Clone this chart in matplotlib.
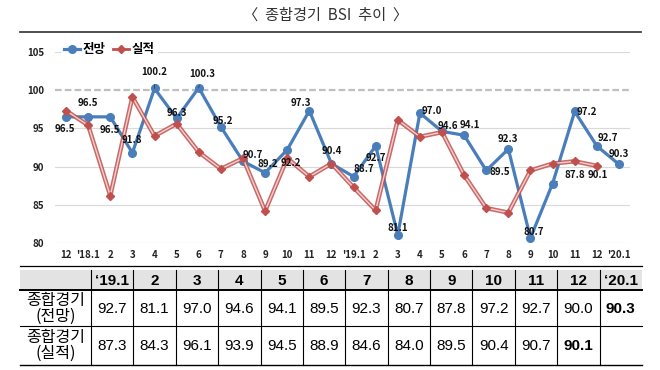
import matplotlib
matplotlib.use('Agg')
import matplotlib.pyplot as plt
from matplotlib.patches import Rectangle

plt.rcParams['font.family'] = ['Noto Sans CJK KR', 'DejaVu Sans']

# chart data
months = ['12', "'18.1", '2', '3', '4', '5', '6', '7', '8', '9', '10', '11', '12',
          "'19.1", '2', '3', '4', '5', '6', '7', '8', '9', '10', '11', '12', "'20.1"]
forecast = [96.5, 96.5, 96.5, 91.8, 100.2, 96.3, 100.3, 95.2, 90.7, 89.2, 92.2, 97.3, 90.4,
            88.7, 92.7, 81.1, 97.0, 94.6, 94.1, 89.5, 92.3, 80.7, 87.8, 97.2, 92.7, 90.3]
actual = [97.3, 95.4, 86.2, 99.1, 94.0, 95.6, 91.9, 89.7, 91.1, 84.2, 91.1, 88.7, 90.4,
          87.3, 84.3, 96.1, 93.9, 94.5, 88.9, 84.6, 84.0, 89.5, 90.4, 90.7, 90.1]

# table data
tbl_cols = ['‘19.1', '2', '3', '4', '5', '6', '7', '8', '9', '10', '11', '12', '‘20.1']
tbl_forecast = [92.7, 81.1, 97.0, 94.6, 94.1, 89.5, 92.3, 80.7, 87.8, 97.2, 92.7, 90.0, 90.3]
tbl_actual = [87.3, 84.3, 96.1, 93.9, 94.5, 88.9, 84.6, 84.0, 89.5, 90.4, 90.7, 90.1]

# label offsets for the forecast line (pixels)
offs = [(-1, -12), (0, 14), (0, -13), (0, 13), (0, 16), (0, 5), (3, 14), (2, 6), (10, 6),
        (3, 9), (4, -13), (-8, 8), (0, 13), (10, 8), (0, -12), (0, 7), (12, 2), (6, 5),
        (6, 10), (14, -2), (0, 10), (3, 6), (22, 9), (12, -1), (11, 8), (0, 10)]
leaders = [4, 6, 22]

W, H = 660, 370
fig = plt.figure(figsize=(6.6, 3.7), dpi=100)

bg = fig.add_axes([0, 0, 1, 1], zorder=0)
bg.set_xlim(0, W)
bg.set_ylim(H, 0)
bg.axis('off')

bg.text(326, 15, '〈  종합경기  BSI  추이  〉', ha='center', va='center', fontsize=11,
        color='#333333')
bg.plot([20, 641], [32, 32], color='#404040', lw=1.3)

# chart
y80, y105 = 243.3, 51.7
ax = fig.add_axes([55 / W, (H - y80) / H, 575 / W, (y80 - y105) / H], zorder=1)
ax.set_facecolor('none')
x = list(range(len(months)))
for v in [80, 85, 90, 95, 105]:
    ax.axhline(v, color='#d9d9d9', lw=0.8, zorder=0)
ax.axhline(100, color='#bfbfbf', lw=1.6, ls=(0, (3, 1.4)), zorder=0)

blue_line = ax.plot(x, forecast, color='#4a7ebb', lw=2.3, marker='o', ms=5.5, zorder=3)[0]
xa = x[:len(actual)]
ax.plot(xa, actual, color='#c0504d', lw=3.2, zorder=4, alpha=0.85)
ax.plot(xa, actual, color='#f3cfcf', lw=1.0, zorder=4)
ax.plot(xa, actual, ls='none', marker='D', ms=4, color='#c0504d', zorder=5)
red_handle = ax.plot([], [], color='#c0504d', lw=2, marker='D', ms=4)[0]

for i, v in enumerate(forecast):
    dx, dy = offs[i]
    ap = None
    if i in leaders:
        ap = dict(arrowstyle='-', color='#404040', lw=0.6, shrinkA=3, shrinkB=3)
    ax.annotate('%.1f' % v, (i, v), xytext=(dx, dy), textcoords='offset pixels',
                ha='center', va='center', fontsize=7, fontweight='bold', color='#111111',
                arrowprops=ap, zorder=6)
ax.annotate('%.1f' % actual[24], (24, actual[24]), xytext=(1, -9), textcoords='offset pixels',
            ha='center', va='center', fontsize=7, fontweight='bold', color='#111111', zorder=6)

ax.set_xlim(-0.5, len(months) - 0.5)
ax.set_ylim(80, 105)
ax.set_yticks([80, 85, 90, 95, 100, 105])
ax.set_xticks(x)
ax.set_xticklabels(months)
ax.tick_params(length=0, labelsize=7, colors='#222222', pad=5)
ax.tick_params(axis='y', pad=8)
for t in ax.get_xticklabels() + ax.get_yticklabels():
    t.set_fontweight('bold')
for s in ax.spines.values():
    s.set_visible(False)

leg = ax.legend([blue_line, red_handle], ['전망', '실적'],
                loc='center left', bbox_to_anchor=(0.0, 1.01), ncol=2, frameon=True,
                handlelength=1.3, handletextpad=0.2, columnspacing=0.6, borderpad=0.2,
                prop={'size': 9, 'weight': 'bold'})
leg.get_frame().set_facecolor('white')
leg.get_frame().set_edgecolor('white')
leg.get_frame().set_alpha(1)

# table
left, first_w = 20, 71
cw = (642 - left - first_w) / len(tbl_cols)
x0 = left + first_w
bg.plot([left, 642], [266, 266], color='black', lw=0.9)
bg.add_patch(Rectangle((left, 270), 642 - left, 20, color='#e3e3e3', lw=0))
bg.plot([left, 642], [290, 290], color='black', lw=1.4)
bg.plot([left, 642], [326, 326], color='black', lw=0.8)
bg.plot([left, 642], [365, 365], color='black', lw=1.0)
for k in range(len(tbl_cols)):
    xx = x0 + cw * k
    bg.plot([xx, xx], [270, 365], color='black', lw=0.8)

numfont = ['Liberation Sans', 'DejaVu Sans']
for k, c in enumerate(tbl_cols):
    cx = x0 + cw * (k + 0.5)
    bg.text(cx, 281, c, ha='center', va='center', fontsize=11, fontweight='bold',
            family=numfont)
    bg.text(cx, 309, '%.1f' % tbl_forecast[k], ha='center', va='center', fontsize=11,
            family=numfont, fontweight='bold' if k == len(tbl_cols) - 1 else 'normal')
    if k < len(tbl_actual):
        bg.text(cx, 346, '%.1f' % tbl_actual[k], ha='center', va='center', fontsize=11,
                family=numfont, fontweight='bold' if k == len(tbl_actual) - 1 else 'normal')

bg.text(left + first_w / 2, 308, '종합경기\n(전망)', ha='center', va='center', fontsize=11.5,
        linespacing=0.9)
bg.text(left + first_w / 2, 345, '종합경기\n(실적)', ha='center', va='center', fontsize=11.5,
        linespacing=0.9)

fig.savefig('out.png', dpi=100)
